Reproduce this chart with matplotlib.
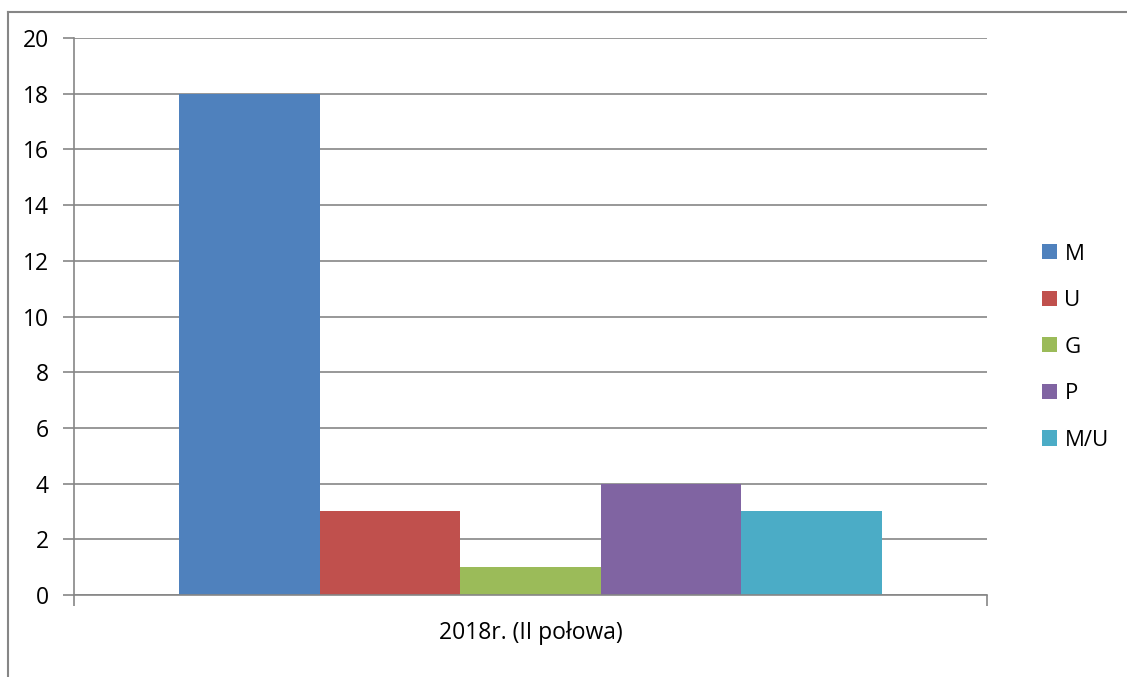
import matplotlib.pyplot as plt
from matplotlib.lines import Line2D

# data
series = ['M', 'U', 'G', 'P', 'M/U']
values = [18, 3, 1, 4, 3]
category = '2018r. (II połowa)'
colors = ['#4F81BD', '#C0504D', '#9BBB59', '#8064A2', '#4BACC6']

plt.rcParams['font.family'] = ['Open Sans', 'DejaVu Sans']

fig = plt.figure(figsize=(11.27, 6.77), dpi=100)
ax = fig.add_axes([74 / 1127, 82 / 677, 913 / 1127, 557 / 677])

# excel style: gap width 150%
w = 1 / (len(series) + 1.5)
for i, (s, v, c) in enumerate(zip(series, values, colors)):
    x = -0.5 + (0.75 + i + 0.5) * w
    ax.bar(x, v, width=w, color=c, label=s, zorder=3)

ax.set_xlim(-0.5, 0.5)
ax.set_ylim(0, 20)
ax.set_yticks(range(0, 21, 2))
ax.set_xticks([-0.5, 0.5])
ax.set_xticklabels(['', ''])
ax.text(0.5, -0.068, category, transform=ax.transAxes, ha='center', va='center', fontsize=16.5)

grid_c = '#868686'
ax.grid(axis='y', color=grid_c, linewidth=1.2, zorder=0)
for side in ['top', 'right']:
    ax.spines[side].set_visible(False)
for side in ['left', 'bottom']:
    ax.spines[side].set_color(grid_c)
    ax.spines[side].set_linewidth(1.2)
ax.spines['bottom'].set_zorder(4)
ax.tick_params(axis='y', length=8, color=grid_c, width=1.2, labelsize=16.5, pad=10)
ax.tick_params(axis='x', length=8, color=grid_c, width=1.2)

leg = ax.legend(loc='center left', bbox_to_anchor=(1.05, 0.445), frameon=False,
                fontsize=16, handlelength=0.68, handleheight=0.68,
                handletextpad=0.35, labelspacing=1.15, borderaxespad=0)

# outer chart frame (left and top edges only visible)
fig.add_artist(Line2D([8 / 1127, 8 / 1127], [0, 1 - 12 / 677], color=grid_c, lw=1.5))
fig.add_artist(Line2D([8 / 1127, 1], [1 - 12 / 677, 1 - 12 / 677], color=grid_c, lw=1.5))

fig.savefig('out.png', dpi=100)
